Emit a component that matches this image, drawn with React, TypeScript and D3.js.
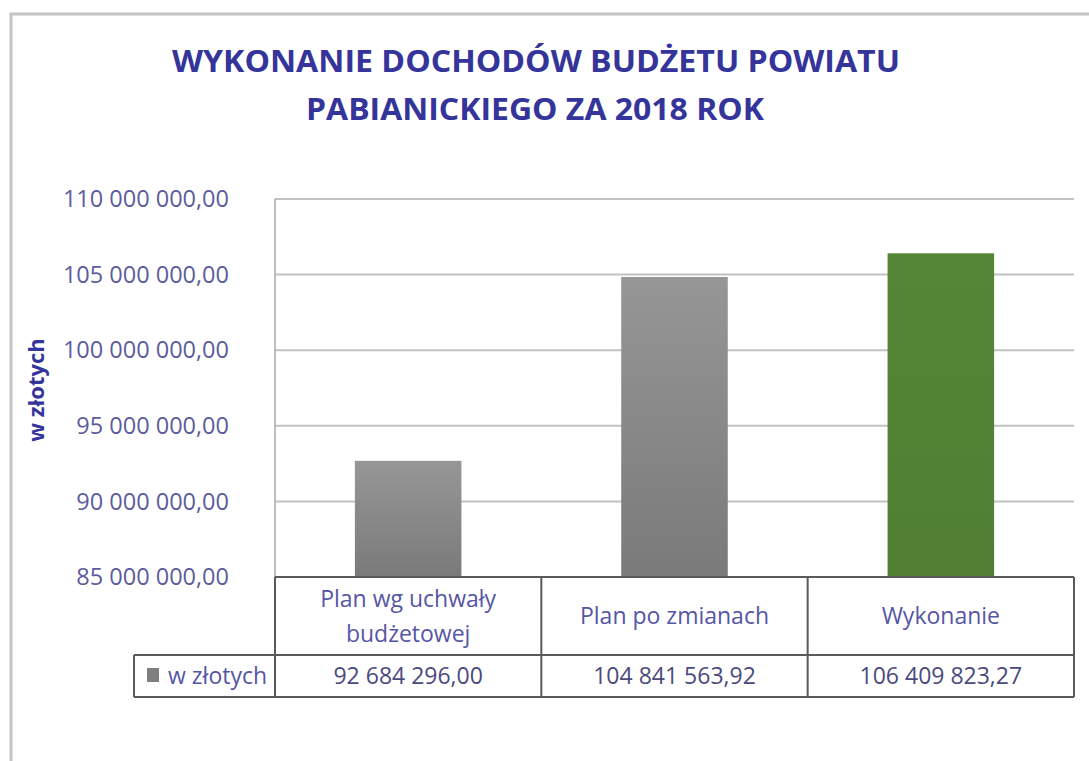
import React from "react";
import * as d3 from "d3";

const titleLines = ["WYKONANIE DOCHODÓW BUDŻETU POWIATU", "PABIANICKIEGO ZA 2018 ROK"];
const categories = ["Plan wg uchwały\nbudżetowej", "Plan po zmianach", "Wykonanie"];
const values = [92684296.0, 104841563.92, 106409823.27];
const seriesName = "w złotych";
const axisTitle = "w złotych";
const yTicks = [85000000, 90000000, 95000000, 100000000, 105000000, 110000000];
const barKinds = ["gray", "gray", "green"];

const W = 1089;
const H = 761;
const FONT = "'Open Sans', 'Liberation Sans', sans-serif";

const plPL = d3.formatLocale({ decimal: ",", thousands: " ", grouping: [3], currency: ["", " zł"] });
const fmt = plPL.format(",.2f");

export default function App() {
  const left = 275;
  const right = 1074;
  const top = 199;
  const bottom = 577;
  const headerBottom = 655;
  const tableBottom = 697;
  const legendLeft = 134;

  const x = d3.scaleBand<string>().domain(categories).range([left, right]).paddingInner(0).paddingOuter(0);
  const y = d3.scaleLinear().domain([85000000, 110000000]).range([bottom, top]);
  const barW = x.bandwidth() * 0.4;

  const titleColor = "#34349a";
  const tickColor = "#5c5c9c";
  const catColor = "#5656a6";
  const valColor = "#4a4a7e";
  const border = "#5a5a5a";

  return (
    <svg
      width={W}
      height={H}
      style={{ position: "absolute", left: 0, top: 0, background: "#fff" }}
      fontFamily={FONT}
    >
      <defs>
        <linearGradient id="gGray" x1="0" y1="0" x2="0" y2="1">
          <stop offset="0" stopColor="#969696" />
          <stop offset="1" stopColor="#7a7a7a" />
        </linearGradient>
        <linearGradient id="gGreen" x1="0" y1="0" x2="0" y2="1">
          <stop offset="0" stopColor="#558636" />
          <stop offset="1" stopColor="#507f33" />
        </linearGradient>
      </defs>
      <rect x={0} y={0} width={W} height={H} fill="#fff" />
      {/* outer frame */}
      <rect x={11} y={14} width={W + 20} height={H + 20} fill="none" stroke="#c4c4c4" strokeWidth={3} />

      {/* title */}
      <text x={536} y={72} textAnchor="middle" fontWeight={700} fontSize={31} fill={titleColor} textLength={728} lengthAdjust="spacingAndGlyphs">
        {titleLines[0]}
      </text>
      <text x={535} y={120} textAnchor="middle" fontWeight={700} fontSize={31} fill={titleColor} textLength={458} lengthAdjust="spacingAndGlyphs">
        {titleLines[1]}
      </text>

      {/* axis title */}
      <text
        transform={`translate(${36},${390}) rotate(-90)`}
        textAnchor="middle"
        dy="0.35em"
        fontWeight={700}
        fontSize={22}
        fill={titleColor}
      >
        {axisTitle}
      </text>

      {/* gridlines */}
      {yTicks.filter((t) => t > 85000000).map((t) => (
        <line key={t} x1={left} x2={right} y1={y(t)} y2={y(t)} stroke="#c2c2c2" strokeWidth={2} />
      ))}
      <line x1={left} x2={left} y1={top} y2={bottom} stroke="#a8a8a8" strokeWidth={1.5} />

      {/* tick labels */}
      {yTicks.map((t) => (
        <text key={t} x={229} y={y(t)} dy="0.35em" textAnchor="end" fontSize={23.5} fill={tickColor}>
          {fmt(t)}
        </text>
      ))}

      {/* bars */}
      {categories.map((c, i) => {
        const cx = (x(c) as number) + x.bandwidth() / 2;
        return (
          <rect
            key={c}
            x={cx - barW / 2}
            y={y(values[i])}
            width={barW}
            height={bottom - y(values[i])}
            fill={barKinds[i] === "green" ? "url(#gGreen)" : "url(#gGray)"}
          />
        );
      })}

      {/* data table */}
      <g fill="none" stroke={border} strokeWidth={2}>
        <line x1={left} x2={right} y1={bottom} y2={bottom} />
        <line x1={legendLeft} x2={right} y1={headerBottom} y2={headerBottom} />
        <line x1={legendLeft} x2={right} y1={tableBottom} y2={tableBottom} />
        <line x1={legendLeft} x2={legendLeft} y1={headerBottom} y2={tableBottom} />
        {categories.map((c) => (
          <line key={c} x1={x(c) as number} x2={x(c) as number} y1={bottom} y2={tableBottom} />
        ))}
        <line x1={right} x2={right} y1={bottom} y2={tableBottom} />
      </g>

      {/* category labels */}
      {categories.map((c) => {
        const cx = (x(c) as number) + x.bandwidth() / 2;
        const lines = c.split("\n");
        const mid = (bottom + headerBottom) / 2;
        const lh = 35;
        return (
          <text key={c} x={cx} textAnchor="middle" fontSize={23} fill={catColor}>
            {lines.map((ln, k) => (
              <tspan key={k} x={cx} y={mid + (k - (lines.length - 1) / 2) * lh} dy="0.35em">
                {ln}
              </tspan>
            ))}
          </text>
        );
      })}

      {/* values row */}
      {categories.map((c, i) => {
        const cx = (x(c) as number) + x.bandwidth() / 2;
        return (
          <text key={c} x={cx} y={(headerBottom + tableBottom) / 2} dy="0.35em" textAnchor="middle" fontSize={23} fill={valColor}>
            {fmt(values[i])}
          </text>
        );
      })}

      {/* legend cell */}
      <rect x={147} y={668} width={12} height={14} fill="#7f7f7f" />
      <text x={168} y={(headerBottom + tableBottom) / 2} dy="0.35em" fontSize={23} fill={catColor}>
        {seriesName}
      </text>
    </svg>
  );
}
